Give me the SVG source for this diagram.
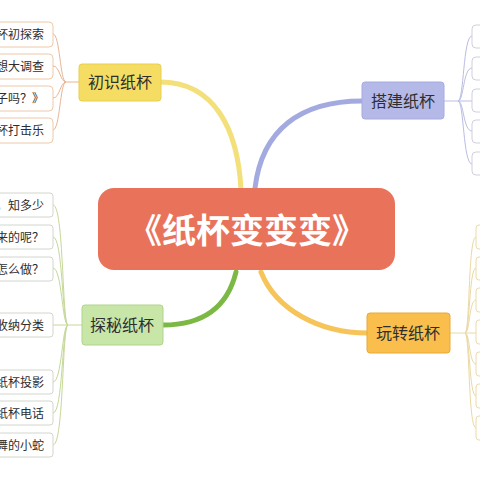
<svg xmlns="http://www.w3.org/2000/svg" width="480" height="480" viewBox="0 0 480 480">
<style>
.leaf{fill:#ffffff;stroke-width:1}
.lt{font-family:"Noto Sans CJK SC","Liberation Sans",sans-serif;font-size:12px;fill:#2e2e2e;text-anchor:end}
.nt{font-family:"Noto Sans CJK SC","Liberation Sans",sans-serif;font-size:16px;fill:#2e2e2e;text-anchor:middle}
.thin{fill:none;stroke-width:1}
.thick{fill:none;stroke-width:5;stroke-linecap:round}
</style>
<rect width="480" height="480" fill="#ffffff"/>
<g id="connectors">
  <path class="thick" stroke="#f3e07a" d="M160,82 C215,82 238,130 241,190"/>
  <path class="thick" stroke="#a3aadf" d="M362,101 C300,101 262,130 255,188"/>
  <path class="thick" stroke="#7cb844" d="M163,325 C205,325 228,305 236,272"/>
  <path class="thick" stroke="#f6c458" d="M261,272 C276,310 320,333 367,333"/>
  <g stroke="#e8b594" class="thin">
    <path d="M79,82 H66"/>
    <path d="M66,82 C60,82 60,34 53,34"/>
    <path d="M66,82 C60,82 60,66 53,66"/>
    <path d="M66,82 C60,82 60,98 53,98"/>
    <path d="M66,82 C60,82 60,130 53,130"/>
  </g>
  <g stroke="#c5d898" class="thin">
    <path d="M82,325 H68"/>
    <path d="M68,325 C62,325 64,205 53,205"/>
    <path d="M68,325 C62,325 63,237 53,237"/>
    <path d="M68,325 C62,325 62,268 53,268"/>
    <path d="M68,325 H53"/>
    <path d="M68,325 C62,325 62,382 53,382"/>
    <path d="M68,325 C62,325 63,413 53,413"/>
    <path d="M68,325 C62,325 64,445 53,445"/>
  </g>
  <g stroke="#b9bde3" class="thin">
    <path d="M444,101 H458"/>
    <path d="M458,101 C464,101 463,36 472,36"/>
    <path d="M458,101 C464,101 463,68 472,68"/>
    <path d="M458,101 H472"/>
    <path d="M458,101 C464,101 463,131 472,131"/>
    <path d="M458,101 C464,101 463,164 472,164"/>
  </g>
  <g stroke="#ead9a2" class="thin">
    <path d="M450,333 H465"/>
    <path d="M465,333 C470,333 468,237 476,237"/>
    <path d="M465,333 C470,333 469,268 476,268"/>
    <path d="M465,333 C470,333 469,300 476,300"/>
    <path d="M465,333 H476"/>
    <path d="M465,333 C470,333 469,364 476,364"/>
    <path d="M465,333 C470,333 469,396 476,396"/>
    <path d="M465,333 C470,333 468,428 476,428"/>
  </g>
</g>
<g id="main">
  <rect x="98" y="188" width="297" height="82" rx="16" fill="#e9735a"/>
  <text x="247" y="243" text-anchor="middle" font-family="'Noto Sans CJK SC','Liberation Sans',sans-serif" font-size="34" font-weight="bold" fill="#ffffff">《纸杯变变变》</text>
</g>
<g id="n-chushi">
  <rect x="79" y="64" width="82" height="37" rx="3" fill="#f4dd62" stroke="#e9cf50"/>
  <text class="nt" x="120" y="88">初识纸杯</text>
</g>
<g id="n-dajian">
  <rect x="362" y="82" width="82" height="37" rx="3" fill="#b4b9e8" stroke="#a6acdf"/>
  <text class="nt" x="403" y="107">搭建纸杯</text>
</g>
<g id="n-tanmi">
  <rect x="82" y="305" width="81" height="40" rx="3" fill="#c8e6a8" stroke="#afd58a"/>
  <text class="nt" x="122" y="331">探秘纸杯</text>
</g>
<g id="n-wanzhuan">
  <rect x="367" y="313" width="83" height="40" rx="3" fill="#f9be4c" stroke="#e9a83a"/>
  <text class="nt" x="408" y="339">玩转纸杯</text>
</g>
<g id="leaves-chushi" stroke="#eccaa9">
  <g id="l1"><rect class="leaf" x="-10" y="22" width="63" height="25" rx="4"/><text class="lt" x="44" y="39" stroke="none">杯初探索</text></g>
  <g id="l2"><rect class="leaf" x="-10" y="54" width="63" height="25" rx="4"/><text class="lt" x="44" y="71" stroke="none">想大调查</text></g>
  <g id="l3"><rect class="leaf" x="-10" y="86" width="63" height="25" rx="4"/><text class="lt" x="44" y="103" stroke="none">子吗？》</text></g>
  <g id="l4"><rect class="leaf" x="-10" y="118" width="63" height="25" rx="4"/><text class="lt" x="44" y="135" stroke="none">杯打击乐</text></g>
</g>
<g id="leaves-tanmi" stroke="#d2d6cc">
  <g id="l5"><rect class="leaf" x="-10" y="193" width="63" height="24" rx="3"/><text class="lt" x="44" y="210" stroke="none">，知多少</text></g>
  <g id="l6"><rect class="leaf" x="-10" y="225" width="63" height="24" rx="3"/><text class="lt" x="44" y="242" stroke="none">来的呢？</text></g>
  <g id="l7"><rect class="leaf" x="-10" y="257" width="63" height="24" rx="3"/><text class="lt" x="44" y="274" stroke="none">怎么做？</text></g>
  <g id="l8"><rect class="leaf" x="-10" y="313" width="63" height="24" rx="3"/><text class="lt" x="44" y="330" stroke="none">收纳分类</text></g>
  <g id="l9"><rect class="leaf" x="-10" y="370" width="63" height="24" rx="3"/><text class="lt" x="44" y="387" stroke="none">纸杯投影</text></g>
  <g id="l10"><rect class="leaf" x="-10" y="401" width="63" height="24" rx="3"/><text class="lt" x="44" y="418" stroke="none">纸杯电话</text></g>
  <g id="l11"><rect class="leaf" x="-10" y="433" width="63" height="24" rx="3"/><text class="lt" x="44" y="450" stroke="none">舞的小蛇</text></g>
</g>
<g id="leaves-dajian" stroke="#cfd0dc">
  <rect class="leaf" x="472" y="25" width="30" height="23" rx="4"/>
  <rect class="leaf" x="472" y="57" width="30" height="23" rx="4"/>
  <rect class="leaf" x="472" y="89" width="30" height="23" rx="4"/>
  <rect class="leaf" x="472" y="120" width="30" height="23" rx="4"/>
  <rect class="leaf" x="472" y="152" width="30" height="23" rx="4"/>
</g>
<g id="leaves-wanzhuan" stroke="#e9dcaa">
  <rect class="leaf" x="476" y="225" width="30" height="24" rx="3"/>
  <rect class="leaf" x="476" y="257" width="30" height="23" rx="3"/>
  <rect class="leaf" x="476" y="288" width="30" height="24" rx="3"/>
  <rect class="leaf" x="476" y="320" width="30" height="24" rx="3"/>
  <rect class="leaf" x="476" y="352" width="30" height="24" rx="3"/>
  <rect class="leaf" x="476" y="384" width="30" height="24" rx="3"/>
  <rect class="leaf" x="476" y="416" width="30" height="24" rx="3"/>
</g>
</svg>
